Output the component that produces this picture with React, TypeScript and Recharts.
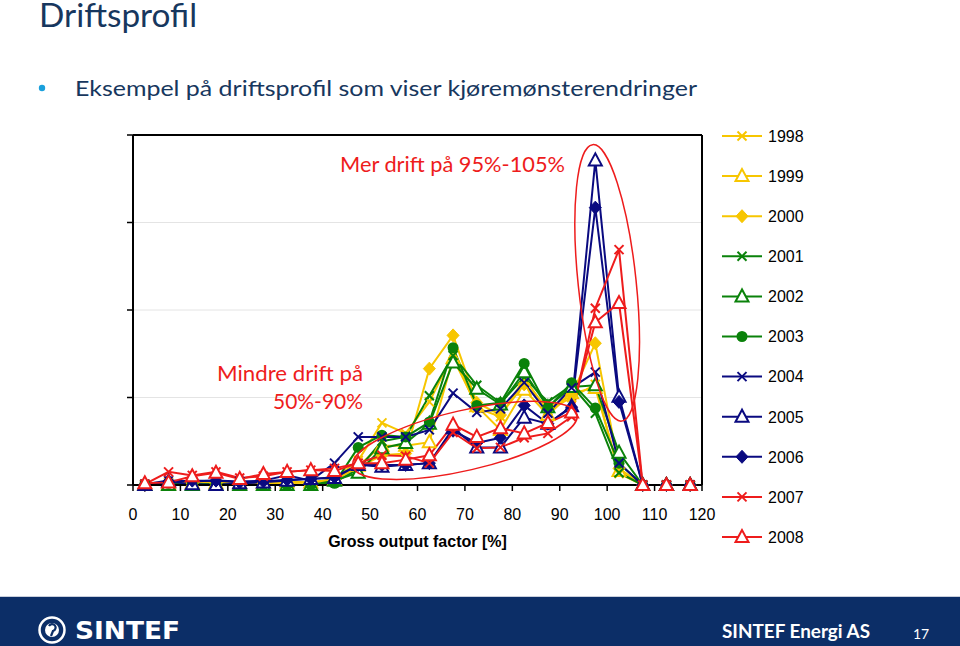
import React from "react";
import {
  LineChart,
  Line,
  XAxis,
  YAxis,
  CartesianGrid,
  ReferenceLine,
  ReferenceDot,
} from "recharts";

// gross output factor bins (midpoints, %)
const factors = [
  2.5, 7.5, 12.5, 17.5, 22.5, 27.5, 32.5, 37.5, 42.5, 47.5, 52.5, 57.5, 62.5,
  67.5, 72.5, 77.5, 82.5, 87.5, 92.5, 97.5, 102.5, 107.5, 112.5, 117.5,
];

const xTicks = [0, 10, 20, 30, 40, 50, 60, 70, 80, 90, 100, 110, 120];
const yTicks = [0, 10, 20, 30, 40];

// share of operating time per bin
const y1998 = [0.1, 0.3, 0.3, 0.4, 0.3, 0.3, 0.4, 0.3, 0.7, 2.8, 7.1, 5.9, 9.5, 15.0, 8.8, 7.8, 12.2, 8.5, 10.0, 11.5, 1.3, 0, 0, 0];
const y1999 = [0, 0.1, 0.2, 0.2, 0.2, 0.2, 0.3, 0.3, 0.6, 2.2, 4.5, 4.5, 4.9, 14.5, 9.0, 6.3, 10.9, 8.0, 10.5, 11.1, 1.6, 0, 0, 0];
const y2000 = [0, 0.1, 0.2, 0.2, 0.2, 0.2, 0.2, 0.3, 0.6, 2.0, 3.4, 3.6, 13.3, 17.1, 9.4, 8.0, 11.5, 8.8, 10.3, 16.2, 1.9, 0, 0, 0];
const y2001 = [0, 0.1, 0.1, 0.1, 0, 0, 0, 0, 0.3, 1.8, 5.0, 5.5, 10.2, 14.8, 11.4, 9.4, 12.3, 9.5, 11.4, 8.2, 1.4, 0, 0, 0];
const y2002 = [0, 0, 0, 0, 0, 0, 0, 0, 0.5, 1.4, 4.2, 4.8, 7.0, 14.0, 11.0, 9.2, 12.9, 8.9, 11.2, 11.4, 3.7, 0, 0, 0];
const y2003 = [0.1, 0.2, 0.1, 0.1, 0, 0, 0, 0, 0.2, 4.3, 5.7, 5.5, 7.2, 15.7, 9.1, 9.4, 13.9, 8.8, 11.7, 8.8, 2.5, 0, 0, 0];
const y2004 = [0.1, 0.5, 0.4, 0.5, 0.4, 0.5, 1.1, 0.5, 2.5, 5.5, 5.5, 5.5, 6.3, 10.5, 8.3, 8.7, 11.7, 8.2, 11.1, 12.9, 2.5, 0, 0, 0];
const y2005 = [0, 0.4, 0.1, 0, 0.2, 0.3, 0.5, 0.7, 0.8, 2.3, 2.1, 2.3, 2.5, 6.5, 4.3, 4.3, 7.7, 7.0, 9.0, 37.1, 10.1, 0, 0, 0];
const y2006 = [0, 0.4, 0.5, 0.5, 0.3, 0.4, 0.6, 0.7, 0.9, 2.3, 2.3, 2.3, 2.5, 6.2, 4.8, 5.4, 9.1, 7.0, 8.9, 31.7, 9.5, 0, 0, 0];
const y2007 = [0.1, 1.5, 1.1, 1.5, 0.8, 1.0, 1.5, 1.7, 1.9, 2.5, 3.4, 3.3, 2.5, 6.0, 4.2, 4.3, 5.4, 5.9, 7.8, 20.2, 26.9, 0, 0, 0];
const y2008 = [0.2, 0.3, 1.0, 1.4, 0.7, 1.25, 1.5, 1.7, 1.6, 2.5, 2.5, 2.9, 3.4, 6.9, 5.5, 6.5, 5.9, 7.1, 8.3, 18.6, 20.8, 0, 0, 0];

const YELLOW = "#f7c600";
const GREEN = "#0a820a";
const NAVY = "#0a0a80";
const RED = "#ee1c1c";

type Shape = "x" | "tri" | "diamond" | "circle";

const series: { name: string; values: number[]; color: string; shape: Shape }[] = [
  { name: "1998", values: y1998, color: YELLOW, shape: "x" },
  { name: "1999", values: y1999, color: YELLOW, shape: "tri" },
  { name: "2000", values: y2000, color: YELLOW, shape: "diamond" },
  { name: "2001", values: y2001, color: GREEN, shape: "x" },
  { name: "2002", values: y2002, color: GREEN, shape: "tri" },
  { name: "2003", values: y2003, color: GREEN, shape: "circle" },
  { name: "2004", values: y2004, color: NAVY, shape: "x" },
  { name: "2005", values: y2005, color: NAVY, shape: "tri" },
  { name: "2006", values: y2006, color: NAVY, shape: "diamond" },
  { name: "2007", values: y2007, color: RED, shape: "x" },
  { name: "2008", values: y2008, color: RED, shape: "tri" },
];

const rows = factors.map((x, i) => {
  const r: any = { x };
  series.forEach((s) => (r[s.name] = s.values[i]));
  return r;
});

function Marker({ cx, cy, shape, color }: { cx?: number; cy?: number; shape: Shape; color: string }) {
  if (cx == null || cy == null || isNaN(cx) || isNaN(cy)) return null;
  if (shape === "x") {
    const d = 4.5;
    return (
      <g>
        <line x1={cx - d} y1={cy - d} x2={cx + d} y2={cy + d} stroke={color} strokeWidth={2} />
        <line x1={cx - d} y1={cy + d} x2={cx + d} y2={cy - d} stroke={color} strokeWidth={2} />
      </g>
    );
  }
  if (shape === "tri") {
    return (
      <polygon
        points={`${cx},${cy - 7} ${cx - 6.5},${cy + 5} ${cx + 6.5},${cy + 5}`}
        fill="#fff"
        stroke={color}
        strokeWidth={2}
      />
    );
  }
  if (shape === "diamond") {
    return (
      <polygon
        points={`${cx},${cy - 6.5} ${cx + 6},${cy} ${cx},${cy + 6.5} ${cx - 6},${cy}`}
        fill={color}
        stroke={color}
        strokeWidth={1}
      />
    );
  }
  return <circle cx={cx} cy={cy} r={5.5} fill={color} />;
}

function Oval({ cx, cy, rx, ry, angle }: any) {
  if (cx == null || cy == null) return null;
  return (
    <ellipse
      cx={cx}
      cy={cy}
      rx={rx}
      ry={ry}
      transform={`rotate(${angle} ${cx} ${cy})`}
      fill="none"
      stroke={RED}
      strokeWidth={1.5}
    />
  );
}

const AXIS_FONT = "'Liberation Sans', Arial, sans-serif";
const SLIDE_FONT = "Lato, 'Open Sans', sans-serif";

export default function App() {
  return (
    <div
      style={{
        position: "absolute",
        left: 0,
        top: 0,
        width: 960,
        height: 646,
        background: "#fff",
        overflow: "hidden",
      }}
    >
      <div style={{ position: "absolute", left: 0, top: 0 }}>
        <LineChart
          width={960}
          height={646}
          data={rows}
          margin={{ top: 135, right: 258, bottom: 91, left: 123 }}
        >
          <CartesianGrid vertical={false} stroke="#e4e4e4" />
          <XAxis
            dataKey="x"
            type="number"
            domain={[0, 120]}
            ticks={xTicks}
            interval={0}
            height={70}
            tickSize={6}
            tickMargin={18}
            axisLine={{ stroke: "#000", strokeWidth: 2 }}
            tickLine={{ stroke: "#000", strokeWidth: 1.5 }}
            tick={{ fontSize: 16, fill: "#000", fontFamily: AXIS_FONT }}
            label={{
              value: "Gross output factor [%]",
              position: "insideBottom",
              offset: 8,
              style: { fontSize: 16, fontWeight: 700, fill: "#000", fontFamily: AXIS_FONT },
            }}
          />
          <YAxis
            type="number"
            domain={[0, 40]}
            ticks={yTicks}
            width={10}
            tickSize={6}
            tickFormatter={() => ""}
            axisLine={{ stroke: "#000", strokeWidth: 2 }}
            tickLine={{ stroke: "#000", strokeWidth: 1.5 }}
          />
          <ReferenceLine y={40} stroke="#000" strokeWidth={2} />
          <ReferenceLine x={120} stroke="#000" strokeWidth={2} />
          {series.map((s) => (
            <Line
              key={s.name}
              dataKey={s.name}
              name={s.name}
              stroke={s.color}
              strokeWidth={2}
              isAnimationActive={false}
              dot={(p: any) => (
                <Marker key={`${s.name}-${p.index}`} cx={p.cx} cy={p.cy} shape={s.shape} color={s.color} />
              )}
              activeDot={false}
            />
          ))}
          <ReferenceDot
            x={70}
            y={5.1}
            ifOverflow="visible"
            shape={(p: any) => <Oval cx={p.cx} cy={p.cy} rx={115} ry={30} angle={-13} />}
          />
          <ReferenceDot
            x={100}
            y={23.1}
            ifOverflow="visible"
            shape={(p: any) => <Oval cx={p.cx} cy={p.cy} rx={29} ry={139} angle={-6} />}
          />
        </LineChart>
      </div>

      <svg
        width={960}
        height={646}
        style={{ position: "absolute", left: 0, top: 0, pointerEvents: "none" }}
      >
        {/* slide heading */}
        <text x={39} y={27} fontFamily={SLIDE_FONT} fontSize={32} fill="#17375e" textLength={158} lengthAdjust="spacingAndGlyphs">
          Driftsprofil
        </text>
        <circle cx={42} cy={88} r={3.2} fill="#1aa0dc" />
        <text x={75} y={96} fontFamily={SLIDE_FONT} fontSize={22} fill="#17375e" textLength={622} lengthAdjust="spacingAndGlyphs">
          Eksempel på driftsprofil som viser kjøremønsterendringer
        </text>

        {/* chart annotations */}
        <text x={340} y={172} fontFamily={SLIDE_FONT} fontSize={21} fill={RED} textLength={225} lengthAdjust="spacingAndGlyphs">
          Mer drift på 95%-105%
        </text>
        <text x={217} y={381} fontFamily={SLIDE_FONT} fontSize={21} fill={RED} textLength={146} lengthAdjust="spacingAndGlyphs">
          Mindre drift på
        </text>
        <text x={273} y={409} fontFamily={SLIDE_FONT} fontSize={21} fill={RED} textLength={90} lengthAdjust="spacingAndGlyphs">
          50%-90%
        </text>

        {/* legend */}
        {series.map((s, i) => {
          const y = 136 + i * 40.1;
          return (
            <g key={s.name}>
              <line x1={722} y1={y} x2={762} y2={y} stroke={s.color} strokeWidth={2} />
              <Marker cx={742} cy={y} shape={s.shape} color={s.color} />
              <text x={768} y={y + 5.8} fontFamily={AXIS_FONT} fontSize={16} fill="#000">
                {s.name}
              </text>
            </g>
          );
        })}

        {/* footer */}
        <rect x={0} y={596} width={960} height={1} fill="#c9cfdc" />
        <rect x={0} y={597} width={960} height={49} fill="#0c2e67" />
        <circle cx={52} cy={630} r={12.5} fill="none" stroke="#fff" strokeWidth={2.5} />
        <circle cx={52} cy={630} r={7} fill="#fff" />
        <path d="M49 626 a3.5 3.5 0 1 1 4 5 l-2 5" stroke="#0c2e67" strokeWidth={2.2} fill="none" />
        <text x={75} y={639} fontFamily="'DejaVu Sans', sans-serif" fontWeight={700} fontSize={24} fill="#fff" textLength={105} lengthAdjust="spacingAndGlyphs">
          SINTEF
        </text>
        <text x={722} y={638} fontFamily={SLIDE_FONT} fontWeight={700} fontSize={19} fill="#fff" textLength={148} lengthAdjust="spacingAndGlyphs">
          SINTEF Energi AS
        </text>
        <text x={913} y={639} fontFamily={SLIDE_FONT} fontSize={14} fill="#fff">
          17
        </text>
      </svg>
    </div>
  );
}
